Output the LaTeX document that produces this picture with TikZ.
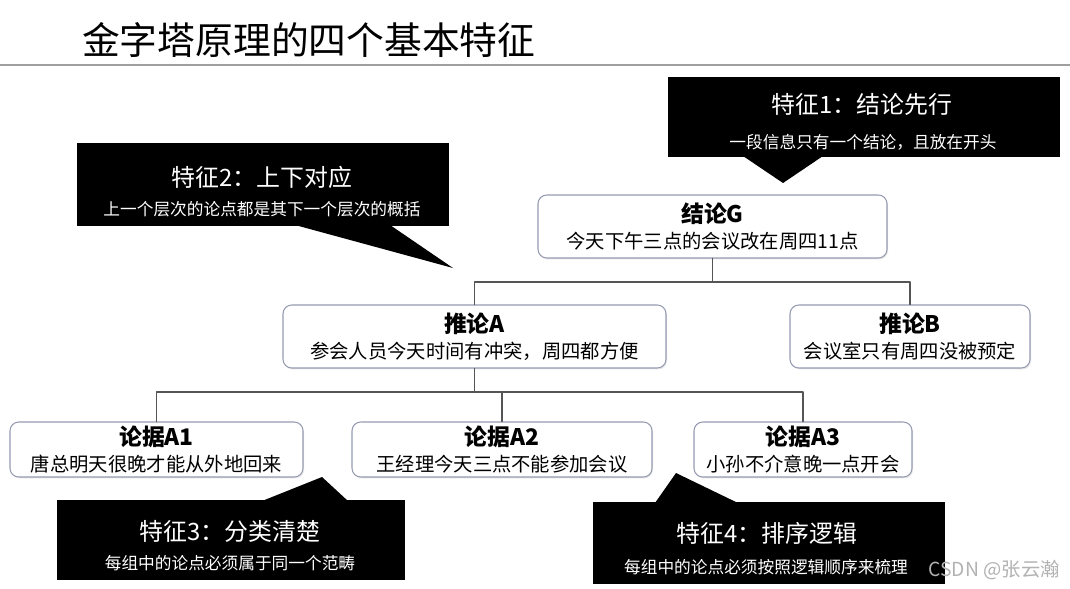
\documentclass[tikz,border=0pt]{standalone}
\usepackage{fontspec}
\setmainfont{Noto Sans CJK SC}
\usetikzlibrary{calc, positioning}
\usetikzlibrary{shadows}

\definecolor{boxline}{RGB}{150,156,178}
\definecolor{linkgray}{RGB}{85,85,85}
\newcommand{\hd}[1]{{\fontsize{13pt}{15pt}\selectfont\bfseries #1}}

\begin{document}
\begin{tikzpicture}[x=0.02cm,y=-0.02cm,line cap=round,line join=round,
  tbox/.style={draw=boxline,line width=0.6pt,rounded corners=5pt,fill=white,
    drop shadow={shadow xshift=0.6pt,shadow yshift=-0.8pt,opacity=0.2},
    align=center,inner sep=0pt,font=\fontsize{11pt}{14.8pt}\selectfont},
  link/.style={draw=linkgray,line width=0.7pt},
  callout/.style={fill=black},
  chead/.style={text=white,font=\fontsize{13.6pt}{16pt}\selectfont},
  csub/.style={text=white,font=\fontsize{9.5pt}{11pt}\selectfont}]
\def\pxu{0.02cm}
\fill[white] (0,0) rectangle (1070,588);
\useasboundingbox (0,0) rectangle (1070,588);

% title
\node[anchor=west,font=\fontsize{21.5pt}{24pt}\selectfont] (title) at (76,40) {金字塔原理的四个基本特征};
\draw[gray!75,line width=1.3pt] (0,65) -- (1070,65);

% callouts
\fill[callout] (668,77) rectangle (1060,157);
\fill[callout] (743,156) -- (823,156) -- (783,183) -- cycle;
\node[chead] (f1) at (862,104) {特征1：结论先行};
\node[csub] (f1s) at (863,142) {一段信息只有一个结论，且放在开头};

\fill[callout] (77,143) rectangle (449,226);
\fill[callout] (295,225) -- (390,225) -- (453,268) -- cycle;
\node[chead] (f2) at (262,177) {特征2：上下对应};
\node[csub] (f2s) at (262,209) {上一个层次的论点都是其下一个层次的概括};

\fill[callout] (57,500) rectangle (405,580);
\fill[callout] (262,501) -- (348,501) -- (322,477) -- cycle;
\node[chead] (f3) at (230,531) {特征3：分类清楚};
\node[csub] (f3s) at (230,563) {每组中的论点必须属于同一个范畴};

\fill[callout] (593,502) rectangle (945,584);
\fill[callout] (655,503) -- (738,503) -- (676,473) -- cycle;
\node[chead] (f4) at (767,533) {特征4：排序逻辑};
\node[csub] (f4s) at (766,567) {每组中的论点必须按照逻辑顺序来梳理};

% pyramid
\node[tbox,minimum width=349*\pxu,minimum height=63*\pxu] (G) at (712.5,226.5)
  {\hd{结论G}\\今天下午三点的会议改在周四11点};
\node[tbox,minimum width=383*\pxu,minimum height=63*\pxu] (A) at (474.5,336.5)
  {\hd{推论A}\\参会人员今天时间有冲突，周四都方便};
\node[tbox,minimum width=240*\pxu,minimum height=63*\pxu] (B) at (910,336.5)
  {\hd{推论B}\\会议室只有周四没被预定};
\node[tbox,minimum width=293*\pxu,minimum height=55*\pxu] (A1) at (156.5,449.5)
  {\hd{论据A1}\\唐总明天很晚才能从外地回来};
\node[tbox,minimum width=300*\pxu,minimum height=55*\pxu] (A2) at (502,449.5)
  {\hd{论据A2}\\王经理今天三点不能参加会议};
\node[tbox,minimum width=218*\pxu,minimum height=55*\pxu] (A3) at (803,449.5)
  {\hd{论据A3}\\小孙不介意晚一点开会};

\coordinate (jG) at (712.5,282);
\coordinate (jA) at (474.5,392);
\draw[link] (G.south) -- (jG);
\draw[link] (A.north) |- (jG) -| (B.north);
\draw[link] (A.south) -- (jA);
\draw[link] (A1.north) |- (jA) -| (A3.north);
\draw[link] (A2.north) -- (A2.north |- jA);

\node[anchor=east,text=gray!60,font=\fontsize{11pt}{13pt}\selectfont] (mark) at (1066,570) {CSDN @张云瀚};
\end{tikzpicture}
\end{document}
